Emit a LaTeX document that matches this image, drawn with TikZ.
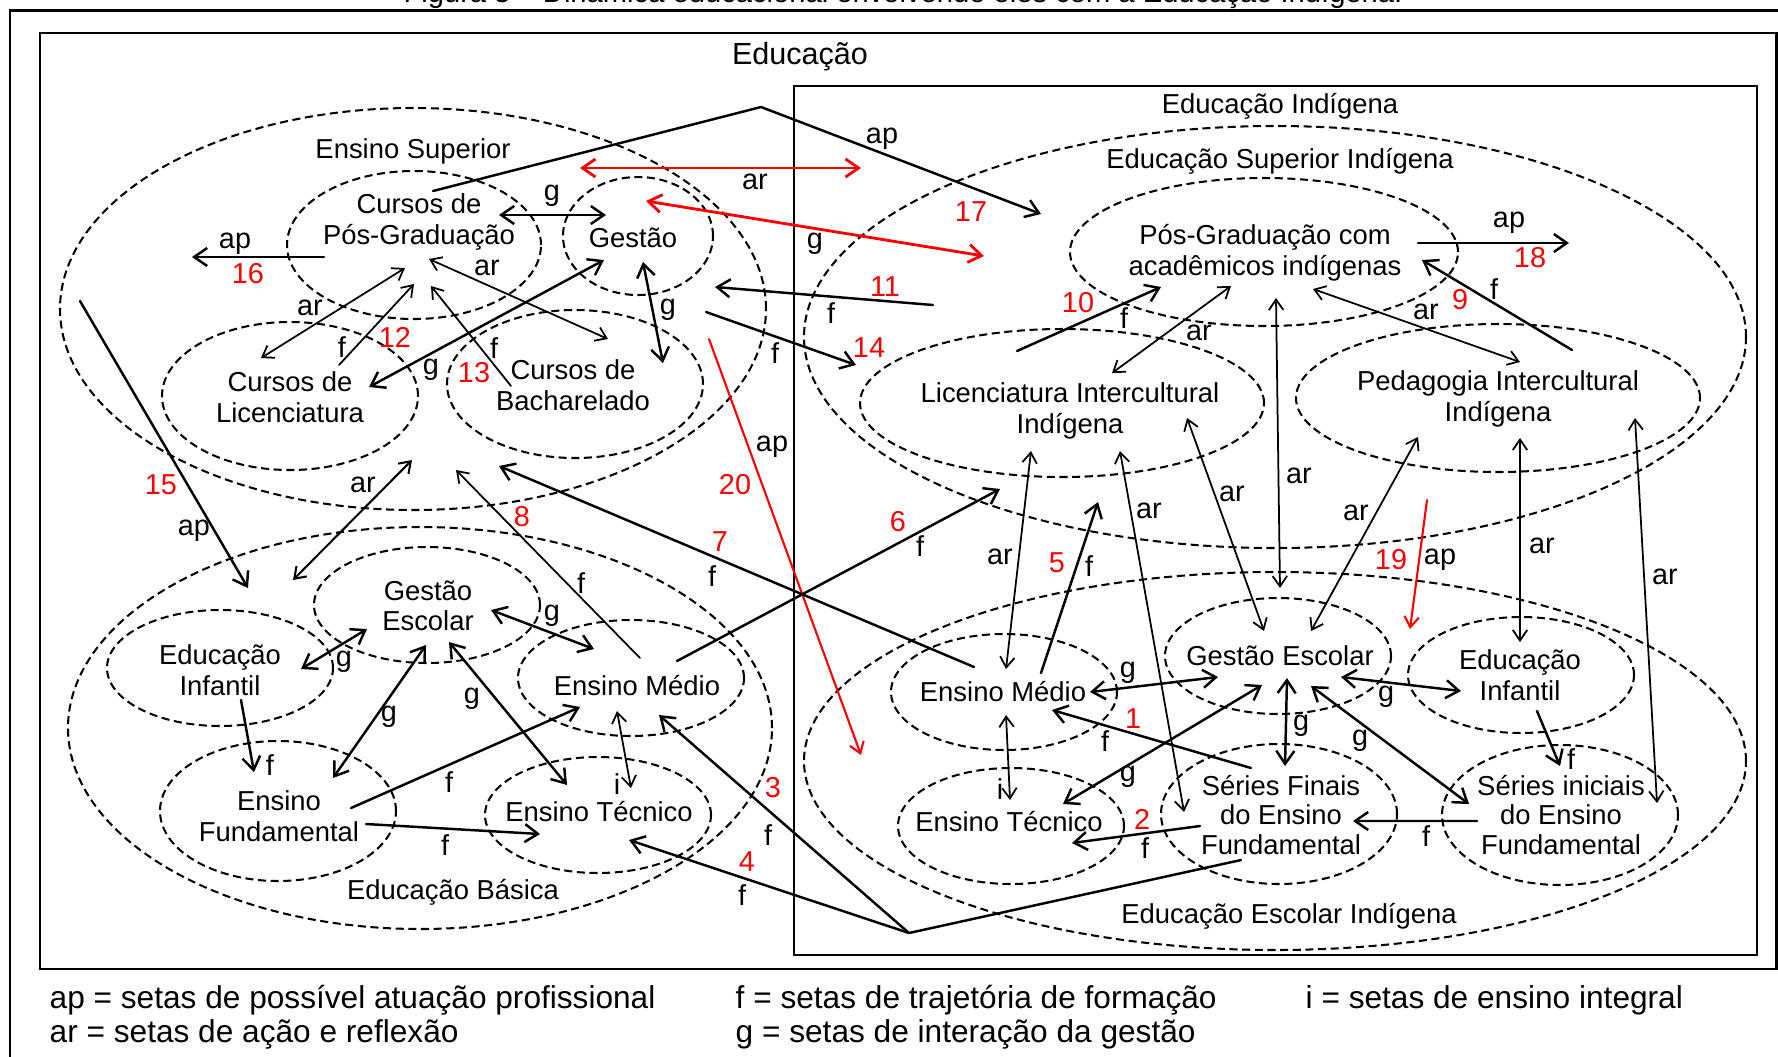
\documentclass[tikz,border=0pt]{standalone}
\usepackage{fontspec}
\setmainfont{Liberation Sans}
\usetikzlibrary{arrows.meta,shapes.geometric,calc}
\definecolor{eduInk}{RGB}{0,0,0}
\definecolor{eduRed}{RGB}{255,0,0}
\tikzset{
  ebody/.style={font=\fontsize{7.8}{8.7}\selectfont, text=eduInk,
    align=center, inner sep=0pt},
  etag/.style={font=\fontsize{8.2}{9}\selectfont, text=eduInk, inner sep=0pt},
  enum/.style={font=\fontsize{8.2}{9}\selectfont, text=eduRed, inner sep=0pt},
  ekey/.style={font=\fontsize{9}{10}\selectfont, text=eduInk, inner sep=0pt,
    anchor=base west},
  eoval/.style={shape=ellipse, draw=eduInk, line width=.58pt,
    dash pattern=on 2.3pt off 1.3pt, inner sep=0pt},
  eflow/.style={>={Straight Barb[length=1.3mm,width=1.8mm]}, line width=.7pt,
    draw=eduInk, line cap=round, line join=round},
  elite/.style={>={Straight Barb[length=1.05mm,width=1.45mm]}, line width=.5pt,
    draw=eduInk, line cap=round, line join=round}
}

\begin{document}
\begin{tikzpicture}[
  ovsmall/.style={eoval, minimum width=2.26cm, minimum height=1.16cm},
  ovmid/.style={eoval, minimum width=2.56cm, minimum height=1.48cm},
  ovfund/.style={eoval, minimum width=2.36cm, minimum height=1.40cm},
  ovwide/.style={eoval, minimum width=4.04cm, minimum height=1.48cm},
  hot/.style={draw=eduRed},
  boxline/.style={draw=eduInk, line width=.7pt}
]
\path[use as bounding box] (0,0) rectangle (17.78,-10.56);

\node[font=\fontsize{8.3}{9}\selectfont, anchor=base, inner sep=0pt] (cap)
  at (9.03,-0.02) {Figura 5 – Dinâmica educacional envolvendo eles com a Educação Indígena.};
\draw[boxline, line width=.85pt] (0.10,-0.10) rectangle (18.20,-11.00);
\draw[boxline] (0.40,-0.33) rectangle (17.765,-9.69);
\draw[boxline, line width=.75pt] (7.94,-0.86) rectangle (17.57,-9.55);

\node[ebody, font=\fontsize{8.7}{9.6}\selectfont] (edu-t) at (8.00,-0.57) {Educação};
\node[ebody] (ind-t) at (12.80,-1.06) {Educação Indígena};

% Educacao (left)
\node[eoval, minimum width=7.06cm, minimum height=4.02cm] (sup) at (4.13,-3.09) {};
\node[eoval, minimum width=2.54cm, minimum height=1.48cm] (pgr) at (4.14,-2.45) {};
\node[eoval, minimum width=1.50cm, minimum height=1.18cm] (ges) at (6.38,-2.36) {};
\node[ovmid] (lic) at (2.90,-3.96) {};
\node[ovmid] (bac) at (5.75,-3.84) {};
\node[eoval, minimum width=7.04cm, minimum height=4.02cm] (bas) at (4.20,-7.28) {};
\node[ovsmall] (gesc) at (4.27,-6.05) {};
\node[ovsmall] (inf) at (2.20,-6.68) {};
\node[ovsmall] (med) at (6.31,-6.78) {};
\node[ovfund] (fun) at (2.78,-8.11) {};
\node[ovsmall] (tec) at (5.98,-8.15) {};

\node[ebody] (sup-t) at (4.13,-1.51) {Ensino Superior};
\node[ebody] (pgr-t) at (4.19,-2.22) {Cursos de\\Pós-Graduação};
\node[ebody] (ges-t) at (6.33,-2.38) {Gestão};
\node[ebody] (lic-t) at (2.90,-3.97) {Cursos de\\Licenciatura};
\node[ebody] (bac-t) at (5.73,-3.85) {Cursos de\\Bacharelado};
\node[ebody] (bas-t) at (4.53,-8.92) {Educação Básica};
\node[ebody] (gesc-t) at (4.28,-6.06) {Gestão\\Escolar};
\node[ebody] (inf-t) at (2.20,-6.70) {Educação\\Infantil};
\node[ebody] (med-t) at (6.37,-6.86) {Ensino Médio};
\node[ebody] (fun-t) at (2.79,-8.16) {Ensino\\Fundamental};
\node[ebody] (tec-t) at (5.99,-8.12) {Ensino Técnico};

% Educacao Indigena (right)
\node[eoval, minimum width=9.42cm, minimum height=4.22cm] (supi) at (12.75,-3.37) {};
\node[eoval, minimum width=3.88cm, minimum height=1.48cm] (pgi) at (12.64,-2.52) {};
\node[ovwide] (lici) at (10.62,-4.03) {};
\node[ovwide] (ped) at (14.98,-3.98) {};
\node[eoval, minimum width=9.42cm, minimum height=3.78cm] (esc) at (12.75,-7.61) {};
\node[ovsmall] (medi) at (10.04,-6.92) {};
\node[ovsmall] (gesi) at (12.78,-6.56) {};
\node[ovsmall] (infi) at (15.21,-6.75) {};
\node[ovsmall] (teci) at (10.11,-8.26) {};
\node[ovfund] (sfin) at (12.79,-8.14) {};
\node[ovfund] (sini) at (15.60,-8.15) {};

\node[ebody] (supi-t) at (12.80,-1.61) {Educação Superior Indígena};
\node[ebody] (pgi-t) at (12.65,-2.53) {Pós-Graduação com\\acadêmicos indígenas};
\node[ebody] (lici-t) at (10.70,-4.11) {Licenciatura Intercultural\\Indígena};
\node[ebody] (ped-t) at (14.98,-3.99) {Pedagogia Intercultural\\Indígena};
\node[ebody] (esc-t) at (12.89,-9.16) {Educação Escolar Indígena};
\node[ebody] (medi-t) at (10.03,-6.92) {Ensino Médio};
\node[ebody] (gesi-t) at (12.80,-6.56) {Gestão Escolar};
\node[ebody] (infi-t) at (15.20,-6.75) {Educação\\Infantil};
\node[ebody] (teci-t) at (10.09,-8.22) {Ensino Técnico};
\node[ebody, font=\fontsize{7.8}{8.5}\selectfont] (sfin-t) at (12.81,-8.15)
  {Séries Finais\\do Ensino\\Fundamental};
\node[ebody, font=\fontsize{7.8}{8.5}\selectfont] (sini-t) at (15.61,-8.15)
  {Séries iniciais\\do Ensino\\Fundamental};

\coordinate (top17) at (7.61,-1.07);
\coordinate (bot34) at (9.09,-9.33);

% upper arrows
\draw[eflow, ->] ($(pgr)+(.19,.54)$) -- (top17) -- ($(pgi)+(-2.23,.38)$);
\node[etag] (t17) at (8.82,-1.39) {ap};
\node[enum] (n17) at (9.71,-2.12) {17};
\draw[eflow, <->, hot, line width=.8pt] ($(sup)+(1.67,1.41)$) -- ($(supi)+(-4.14,1.69)$);
\node[etag] (ar1) at (7.55,-1.82) {ar};
\draw[eflow, <->, hot, line width=.8pt] ($(ges)+(.08,.35)$) -- ($(pgi)+(-2.80,-.04)$);
\node[etag] (g1) at (8.15,-2.44) {g};
\draw[eflow, <->] ($(pgr)+(.85,.30)$) -- ($(ges)+(-.32,.21)$);
\node[etag] (g2) at (5.52,-1.96) {g};
\draw[eflow, ->] ($(pgr)+(-.90,-.12)$) -- ($(pgr)+(-2.22,-.12)$);
\node[etag] (t16) at (2.35,-2.44) {ap};
\node[enum] (n16) at (2.48,-2.74) {16};
\draw[elite, <->] ($(pgr)+(-.09,-.23)$) -- ($(lic)+(-.29,.38)$);
\node[etag] (ar2) at (3.10,-3.08) {ar};
\draw[elite, ->] ($(lic)+(.49,.31)$) -- ($(pgr)+(0,-.39)$);
\node[etag] (t12) at (3.42,-3.47) {f};
\node[enum] (n12) at (3.95,-3.37) {12};
\draw[elite, <->] ($(pgr)+(.15,-.14)$) -- ($(bac)+(.33,.45)$);
\node[etag] (ar3) at (4.87,-2.68) {ar};
\draw[elite, ->] ($(bac)+(-.64,-.02)$) -- ($(pgr)+(.17,-.41)$);
\node[etag] (t13) at (4.94,-3.48) {f};
\node[enum] (n13) at (4.74,-3.73) {13};
\draw[eflow, <->] ($(ges)+(-.34,-.24)$) -- ($(lic)+(.79,.09)$);
\node[etag] (g3) at (4.31,-3.70) {g};
\draw[eflow, <->] ($(ges)+(.05,-.26)$) -- ($(bac)+(.88,.21)$);
\node[etag] (g4) at (6.68,-3.10) {g};
\draw[eflow, ->] ($(supi)+(-3.42,.32)$) -- ($(ges)+(.77,-.51)$);
\node[enum] (n11) at (8.85,-2.87) {11};
\node[etag] (t11) at (8.31,-3.13) {f};
\draw[eflow, ->] ($(ges)+(.68,-.76)$) -- ($(lici)+(-2.06,.38)$);
\node[etag] (t14) at (7.75,-3.53) {f};
\node[enum] (n14) at (8.69,-3.48) {14};
\draw[elite, ->, hot, line width=.6pt] ($(sup)+(2.96,-.30)$) -- ($(esc)+(-4.14,.06)$);
\node[etag] (t20) at (7.72,-4.47) {ap};
\node[enum] (n20) at (7.35,-4.85) {20};
\draw[eflow, ->] ($(sup)+(-3.33,.08)$) -- ($(bas)+(-1.72,1.40)$);
\node[enum] (n15) at (1.61,-4.85) {15};
\node[etag] (t15) at (1.94,-5.31) {ap};
\draw[elite, <->, line width=.58pt] ($(sup)+(-.01,-1.51)$) -- ($(bas)+(-1.27,1.48)$);
\node[etag] (ar4) at (3.63,-4.85) {ar};
\draw[elite, ->] ($(med)+(.09,.20)$) -- ($(sup)+(.43,-1.61)$);
\node[enum] (n8) at (5.22,-5.17) {8};
\node[etag] (t8) at (5.81,-5.83) {f};
\draw[eflow, ->] ($(medi)+(-.30,.25)$) -- ($(sup)+(.86,-1.57)$);
\node[enum] (n7) at (7.20,-5.42) {7};
\node[etag] (t7) at (7.12,-5.76) {f};
\draw[eflow, ->] ($(med)+(.46,.17)$) -- ($(lici)+(-.62,-.86)$);
\node[enum] (n6) at (8.98,-5.22) {6};
\node[etag] (t6) at (9.20,-5.46) {f};

% Educacao Basica
\draw[eflow, <->] ($(inf)+(.81,-.01)$) -- ($(gesc)+(-.60,-.24)$);
\node[etag] (g5) at (3.44,-6.62) {g};
\draw[eflow, <->] ($(gesc)+(.64,-.05)$) -- ($(med)+(-.37,.29)$);
\node[etag] (g6) at (5.52,-6.16) {g};
\draw[eflow, <->] ($(gesc)+(-.01,-.40)$) -- ($(fun)+(.55,.33)$);
\node[etag] (g7) at (3.89,-7.17) {g};
\draw[eflow, <->] ($(gesc)+(.22,-.37)$) -- ($(tec)+(-.31,.30)$);
\node[etag] (g8) at (4.72,-6.99) {g};
\draw[eflow, ->] ($(inf)+(.21,-.32)$) -- ($(fun)+(-.24,.39)$);
\node[etag] (f1) at (2.70,-7.65) {f};
\draw[eflow, ->] ($(fun)+(.73,.03)$) -- ($(med)+(-.51,-.29)$);
\node[etag] (f2) at (4.49,-7.82) {f};
\draw[eflow, ->] ($(fun)+(.88,-.13)$) -- ($(tec)+(-.58,-.19)$);
\node[etag] (f3) at (4.45,-8.45) {f};
\draw[elite, <->] ($(med)+(-.14,-.33)$) -- ($(tec)+(.33,.27)$);
\node[etag] (i1) at (6.17,-7.84) {i};
\draw[eflow] ($(sfin)+(-.38,-.46)$) -- (bot34);
\draw[eflow, ->] (bot34) -- ($(med)+(.28,-.37)$);
\draw[eflow, ->] (bot34) -- ($(tec)+(.31,-.25)$);
\node[enum] (n3) at (7.73,-7.88) {3};
\node[etag] (t3) at (7.68,-8.35) {f};
\node[enum] (n4) at (7.47,-8.62) {4};
\node[etag] (t4) at (7.42,-8.95) {f};

% Educacao Superior Indigena
\draw[eflow, ->] ($(pgi)+(1.54,.09)$) -- ($(pgi)+(3.05,.09)$);
\node[etag] (t18) at (15.09,-2.23) {ap};
\node[enum] (n18) at (15.30,-2.58) {18};
\draw[eflow, ->] ($(lici)+(-.45,.52)$) -- ($(pgi)+(-1.03,-.35)$);
\node[enum] (n10) at (10.78,-3.03) {10};
\node[etag] (t10) at (11.24,-3.18) {f};
\draw[elite, <->] ($(pgi)+(-.33,-.34)$) -- ($(lici)+(.50,.30)$);
\node[etag] (ar5) at (11.99,-3.33) {ar};
\draw[elite, <->] ($(pgi)+(.49,-.37)$) -- ($(ped)+(.22,.36)$);
\node[etag] (ar6) at (14.26,-3.12) {ar};
\draw[eflow, ->] ($(ped)+(.74,.48)$) -- ($(pgi)+(1.58,-.08)$);
\node[enum] (n9) at (14.60,-3.00) {9};
\node[etag] (t9) at (14.94,-2.89) {f};
\draw[elite, <->] ($(pgi)+(.12,-.46)$) -- ($(gesi)+(.02,.68)$);
\node[etag] (ar7) at (12.99,-4.76) {ar};
\draw[elite, <->] ($(lici)+(-.31,-.48)$) -- ($(medi)+(.02,.23)$);
\node[etag] (ar8) at (10.00,-5.57) {ar};
\draw[eflow, ->] ($(medi)+(.37,.19)$) -- ($(lici)+(.36,-.99)$);
\node[enum] (n5) at (10.57,-5.63) {5};
\node[etag] (t5) at (10.89,-5.66) {f};
\draw[elite, <->] ($(lici)+(.58,-.48)$) -- ($(sfin)+(-.95,.02)$);
\node[etag] (ar9) at (11.49,-5.11) {ar};
\draw[elite, <->] ($(lici)+(1.25,-.15)$) -- ($(gesi)+(-.14,.25)$);
\node[etag] (ar10) at (12.32,-4.94) {ar};
\draw[elite, <->] ($(ped)+(-.80,-.39)$) -- ($(gesi)+(.33,.25)$);
\node[etag] (ar11) at (13.56,-5.13) {ar};
\draw[elite, <->] ($(ped)+(.22,-.40)$) -- ($(infi)+(-.01,.33)$);
\node[etag] (ar12) at (15.42,-5.46) {ar};
\draw[elite, <->] ($(ped)+(1.37,-.20)$) -- ($(sini)+(.97,.12)$);
\node[etag] (ar13) at (16.65,-5.77) {ar};
\draw[elite, ->, hot, line width=.6pt] ($(supi)+(1.52,-1.63)$) -- ($(esc)+(1.35,1.32)$);
\node[enum] (n19) at (13.91,-5.60) {19};
\node[etag] (t19) at (14.40,-5.60) {ap};

% Educacao Escolar Indigena
\draw[eflow, <->] ($(medi)+(.86,0)$) -- ($(gesi)+(-.60,-.21)$);
\node[etag] (g9) at (11.28,-6.73) {g};
\draw[eflow, <->] ($(gesi)+(.63,-.21)$) -- ($(infi)+(-.60,-.16)$);
\node[etag] (g10) at (13.86,-6.97) {g};
\draw[eflow, <->] ($(gesi)+(.09,-.22)$) -- ($(sfin)+(.06,.48)$);
\node[etag] (g11) at (13.01,-7.26) {g};
\draw[eflow, <->] ($(gesi)+(-.16,-.29)$) -- ($(teci)+(.52,.22)$);
\node[etag] (g12) at (11.28,-7.77) {g};
\draw[eflow, <->] ($(gesi)+(.33,-.30)$) -- ($(sini)+(-.91,.11)$);
\node[etag] (g13) at (13.60,-7.41) {g};
\draw[eflow, ->] ($(sfin)+(-.28,.46)$) -- ($(medi)+(.48,-.18)$);
\node[enum] (n1) at (11.33,-7.19) {1};
\node[etag] (t1) at (11.05,-7.41) {f};
\draw[elite, <->] ($(medi)+(.02,-.23)$) -- ($(teci)+(-.01,.26)$);
\node[etag] (i2) at (10.00,-7.89) {i};
\draw[eflow, ->] ($(sfin)+(-.79,-.12)$) -- ($(teci)+(.61,-.17)$);
\node[enum] (n2) at (11.42,-8.19) {2};
\node[etag] (t2) at (11.45,-8.48) {f};
\draw[eflow, ->] ($(sini)+(-.83,-.06)$) -- ($(sfin)+(.74,-.07)$);
\node[etag] (f4) at (14.26,-8.36) {f};
\draw[eflow, ->] ($(infi)+(.16,-.36)$) -- ($(sini)+(0,.49)$);
\node[etag] (f5) at (15.71,-7.59) {f};

\node[ekey] (key-ap) at (0.49,-10.08) {ap = setas de possível atuação profissional};
\node[ekey] (key-ar) at (0.49,-10.42) {ar = setas de ação e reflexão};
\node[ekey] (key-f) at (7.35,-10.08) {f = setas de trajetória de formação};
\node[ekey] (key-g) at (7.35,-10.42) {g = setas de interação da gestão};
\node[ekey] (key-i) at (13.05,-10.08) {i = setas de ensino integral};
\end{tikzpicture}
\end{document}
